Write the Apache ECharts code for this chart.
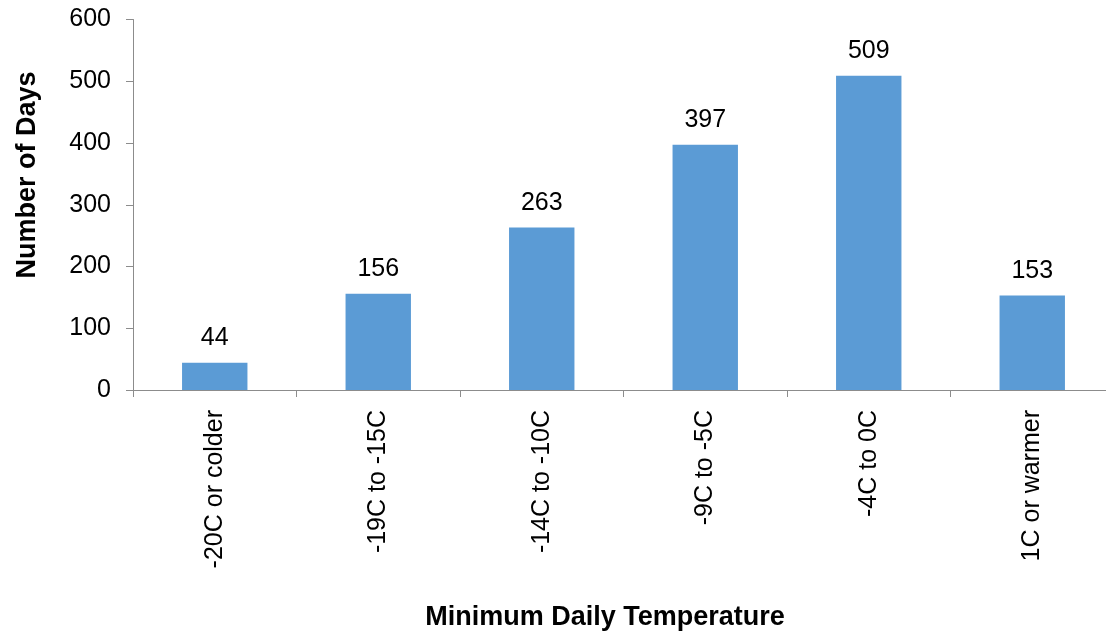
<!DOCTYPE html>
<html>
<head>
<meta charset="utf-8">
<style>
  html, body { margin: 0; padding: 0; background: #ffffff; overflow: hidden; }
  #chart { width: 1114px; height: 632px; }
</style>
<script src="https://cdn.jsdelivr.net/npm/echarts@6/dist/echarts.min.js"></script>
</head>
<body>
<div id="chart"></div>
<script>
// Days falling into each minimum daily temperature band
const categories = ['-20C or colder', '-19C to -15C', '-14C to -10C', '-9C to -5C', '-4C to 0C', '1C or warmer'];
const dayCounts = [44, 156, 263, 397, 509, 153];
const yTicks = [0, 100, 200, 300, 400, 500, 600];

const FONT = '"Liberation Sans", Arial, sans-serif';
const AXIS_COLOR = '#8c8c8c';

const chart = echarts.init(document.getElementById('chart'), null, { renderer: 'canvas' });

chart.setOption({
  animation: false,
  backgroundColor: '#ffffff',
  textStyle: { fontFamily: FONT },
  // the plot runs a little past the visible window on the right
  grid: { left: 133, top: 19.5, right: 0, bottom: 242, containLabel: false },
  xAxis: {
    type: 'category',
    data: categories,
    boundaryGap: true,
    axisLine: { show: true, lineStyle: { color: AXIS_COLOR, width: 1 } },
    axisTick: { show: true, length: 7, alignWithLabel: false, lineStyle: { color: AXIS_COLOR } },
    axisLabel: {
      rotate: 90,
      margin: 20,
      interval: 0,
      color: '#000000',
      fontSize: 25,
      fontFamily: FONT
    },
    splitLine: { show: false }
  },
  yAxis: {
    type: 'value',
    min: yTicks[0],
    max: yTicks[yTicks.length - 1],
    interval: yTicks[1] - yTicks[0],
    axisLine: { show: true, lineStyle: { color: AXIS_COLOR, width: 1 } },
    axisTick: { show: true, length: 7, lineStyle: { color: AXIS_COLOR } },
    axisLabel: { margin: 22, color: '#000000', fontSize: 25, fontFamily: FONT },
    splitLine: { show: false }
  },
  series: [{
    type: 'bar',
    data: dayCounts,
    barWidth: '40%',
    itemStyle: { color: '#5b9bd5' },
    label: {
      show: true,
      position: 'top',
      distance: 12,
      color: '#000000',
      fontSize: 25,
      fontFamily: FONT
    }
  }],
  graphic: [
    {
      type: 'text',
      x: 28,
      y: 175,
      rotation: Math.PI / 2,
      style: {
        text: 'Number of Days',
        font: 'bold 27px ' + FONT,
        fill: '#000000',
        textAlign: 'center',
        textVerticalAlign: 'middle'
      }
    },
    {
      type: 'text',
      x: 605,
      y: 618,
      style: {
        text: 'Minimum Daily Temperature',
        font: 'bold 27px ' + FONT,
        fill: '#000000',
        textAlign: 'center',
        textVerticalAlign: 'middle'
      }
    }
  ]
});
</script>
</body>
</html>
